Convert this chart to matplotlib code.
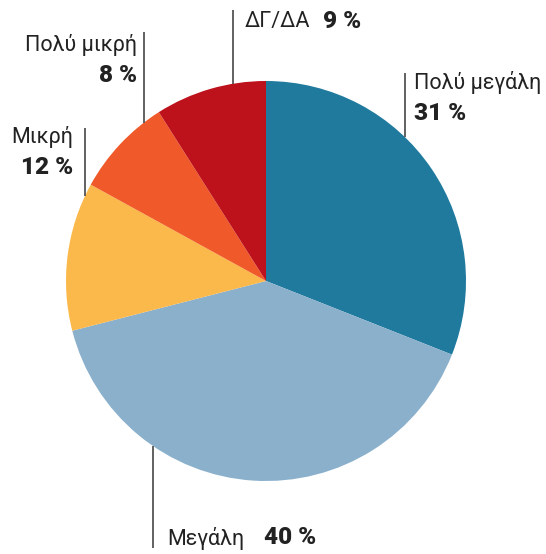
import numpy as np
import matplotlib.pyplot as plt

# Δεδομένα
labels = ["Πολύ μεγάλη", "Μεγάλη", "Μικρή", "Πολύ μικρή", "ΔΓ/ΔΑ"]
values = [31, 40, 12, 8, 9]
colors = ["#1f7a9e", "#8ab0cc", "#fbb84b", "#f05a2a", "#bd111b"]

plt.rcParams["font.family"] = ["Roboto", "DejaVu Sans"]

W, H = 546, 554
fig = plt.figure(figsize=(W / 100, H / 100), dpi=100)
ax = fig.add_axes([0, 0, 1, 1])

cx, cy, r = 266, H - 281, 200
ax.pie(values, colors=colors, startangle=90, counterclock=False,
       radius=r, center=(cx, cy), frame=True,
       wedgeprops=dict(linewidth=0))
ax.set_xlim(0, W)
ax.set_ylim(0, H)
ax.axis("off")

lc = "#555555"
tc = "#222222"
fs = 15.5
fs_pct = 17.5


def leader(x, y_top, y_bottom=None):
    # linha vertical até a borda do círculo
    if y_bottom is None:
        yb = cy + np.sqrt(r ** 2 - (x - cx) ** 2)
    else:
        yb = y_bottom
    ax.plot([x, x], [H - y_top, yb], color=lc, lw=1.3, solid_capstyle="butt")


def inline(x, y, name, pct, gap):
    t = ax.text(x, H - y, name, fontsize=fs, va="center", ha="left", color=tc)
    ax.annotate(pct, xy=(1, 0.5), xycoords=t, xytext=(gap, 0), textcoords="offset points",
                fontsize=fs_pct, va="center", ha="left", fontweight="black", color=tc)


def two_lines(x, y, name, pct, ha):
    ax.text(x, H - y, name, fontsize=fs, va="center", ha=ha, color=tc)
    ax.text(x, H - y - 30, pct, fontsize=fs_pct, va="center", ha=ha, fontweight="black", color=tc)


# ΔΓ/ΔΑ
leader(233, 10)
inline(245, 22, labels[4], f"{values[4]} %", 9)

# Πολύ μικρή
leader(144, 32)
two_lines(137, 45, labels[3], f"{values[3]} %", "right")

# Μικρή
leader(85, 128)
two_lines(73, 137, labels[2], f"{values[2]} %", "right")

# Πολύ μεγάλη
leader(405, 73)
two_lines(414, 83, labels[0], f"{values[0]} %", "left")

# Μεγάλη
dy = np.sqrt(r ** 2 - (153 - cx) ** 2)
leader(153, 548, y_bottom=cy - dy)
inline(167, 538, labels[1], f"{values[1]} %", 14)

fig.savefig("out.png", dpi=100)
